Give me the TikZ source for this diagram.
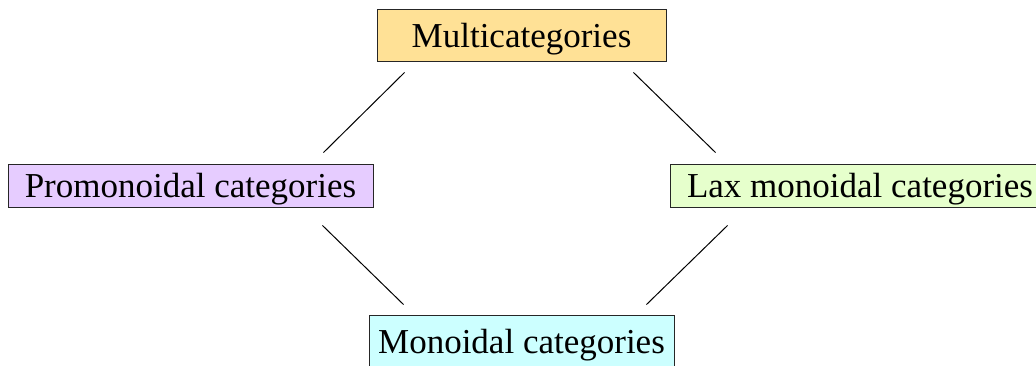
\documentclass[tikz,border=0pt]{standalone}
\usepackage{fontspec}
\setmainfont{Liberation Serif}
\usetikzlibrary{calc}
\definecolor{cyel}{RGB}{255,225,150}
\definecolor{clav}{RGB}{230,204,255}
\definecolor{cgrn}{RGB}{230,255,204}
\definecolor{ccyn}{RGB}{204,255,255}
\tikzset{
  catbox/.style={draw=black!85, line width=0.9bp, inner sep=0pt, text depth=0pt, font=\fontsize{35bp}{40bp}\selectfont},
  conn/.style={line width=1bp, black}
}
\begin{document}
\begin{tikzpicture}[x=1bp,y=-1bp]
\useasboundingbox (0,0) rectangle (1036,365);
\node[catbox, fill=cyel, minimum width=289bp, minimum height=52bp] (m) at (521.5,35) {Multicategories};
\node[catbox, fill=clav, minimum width=365bp, minimum height=43bp] (p) at (190.5,185.5) {Promonoidal categories};
\node[catbox, fill=cgrn, minimum width=380bp, minimum height=43bp] (l) at (860,185.5) {Lax monoidal categories};
\node[catbox, fill=ccyn, minimum width=305bp, minimum height=52bp] (o) at (521.5,341) {Monoidal categories};
\draw[conn] ($(m.south west)+(28,11)$) -- ($(p.north east)+(-50,-11)$);
\draw[conn] ($(m.south east)+(-33,11)$) -- ($(l.north west)+(46,-11)$);
\draw[conn] ($(p.south east)+(-51,18)$) -- ($(o.north west)+(35,-10)$);
\draw[conn] ($(l.south west)+(58,18)$) -- ($(o.north east)+(-28,-10)$);
\end{tikzpicture}
\end{document}
